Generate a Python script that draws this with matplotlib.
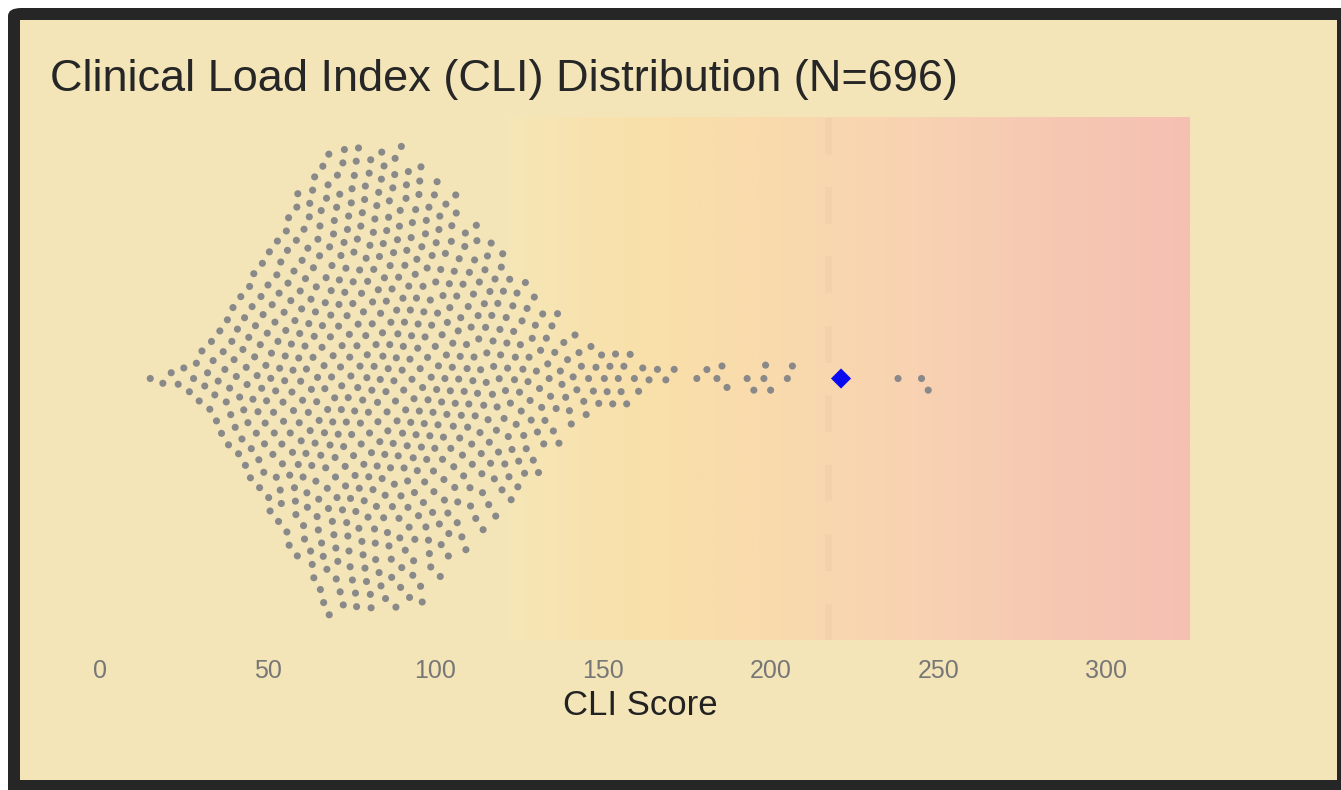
#!/usr/bin/env python
"""Beeswarm of Clinical Load Index (CLI) scores."""

from __future__ import annotations

import matplotlib

matplotlib.use("Agg")
import matplotlib.pyplot as plt
import numpy as np
from matplotlib.colors import LinearSegmentedColormap
from matplotlib.patches import FancyBboxPatch, Rectangle

# CLI scores: main body as counts per 5-point bin,
# sparse right tail as individual scores.
BIN_CENTERS = [15, 20, 25, 30, 35, 40, 45, 50, 55, 60, 65, 70, 75, 80, 85, 90,
               95, 100, 105, 110, 115, 120, 125, 130, 135, 140, 145, 150, 155,
               160, 165, 170]
BIN_COUNTS = [1, 2, 3, 6, 10, 15, 20, 24, 30, 35, 41, 43, 44, 44, 44, 43,
              41, 37, 34, 29, 27, 24, 20, 16, 12, 9, 7, 6, 6, 4, 2, 2]
TAIL_SCORES = [178, 181, 184, 185.5, 187, 193, 195, 198, 198.5, 200, 205,
               206.5, 238, 245, 247]
HIGHLIGHT_SCORE = 221
REFERENCE_LINE = 217
BAND_START, BAND_END = 122, 325
XTICKS = [0, 50, 100, 150, 200, 250, 300]
TITLE = "Clinical Load Index (CLI) Distribution (N=696)"
XLABEL = "CLI Score"

FIG_W, FIG_H, DPI = 1341, 790, 100
AX_LEFT_PX, AX_RIGHT_PX = 50, 1230
AX_TOP_PX, AX_BOTTOM_PX = 117, 640
XLIM = (-14.9, 337.0)
BG = "#F3E5B8"
DOT = "#898989"
SPACING_PX = 13.45


def cli_scores() -> np.ndarray:
    values = []
    for center, count in zip(BIN_CENTERS, BIN_COUNTS):
        lo = center - 2.5
        values.extend(lo + (np.arange(count) + 0.5) * 5.0 / count)
    values.extend(TAIL_SCORES)
    return np.asarray(values, dtype=float)


def swarm_offsets(x_px: np.ndarray, d: float) -> np.ndarray:
    order = np.argsort(x_px, kind="stable")
    out = np.zeros(len(x_px))
    px, py = [], []
    flip = 1.0
    for idx in order:
        xi = x_px[idx]
        ax_ = np.asarray(px)
        ay_ = np.asarray(py)
        near = np.abs(ax_ - xi) < d if len(px) else np.zeros(0, bool)
        nx, ny = ax_[near], ay_[near]
        dy = np.sqrt(np.maximum(d ** 2 - (nx - xi) ** 2, 0.0))
        cands = np.concatenate([[0.0], ny + dy, ny - dy])
        cands = cands[np.lexsort((-flip * cands, np.abs(cands)))]
        chosen = 0.0
        for c in cands:
            if np.all((nx - xi) ** 2 + (ny - c) ** 2 >= d ** 2 - 1e-6):
                chosen = c
                break
        flip = -flip
        out[idx] = chosen
        px.append(xi)
        py.append(chosen)
    return out


def main() -> None:
    fig = plt.figure(figsize=(FIG_W / DPI, FIG_H / DPI), dpi=DPI, facecolor="white")
    # dark frame + beige panel
    fig.patches.append(FancyBboxPatch((8 / FIG_W, -0.05), 1.1, (FIG_H - 8) / FIG_H + 0.05,
                                      boxstyle="round,pad=0,rounding_size=0.01",
                                      transform=fig.transFigure, facecolor="#262626",
                                      edgecolor="none", zorder=-2))
    fig.patches.append(Rectangle((20 / FIG_W, 10 / FIG_H), (1337 - 20) / FIG_W,
                                 (FIG_H - 30) / FIG_H, transform=fig.transFigure,
                                 facecolor=BG, edgecolor="none", zorder=-1))

    ax = fig.add_axes([AX_LEFT_PX / FIG_W, 1 - AX_BOTTOM_PX / FIG_H,
                       (AX_RIGHT_PX - AX_LEFT_PX) / FIG_W,
                       (AX_BOTTOM_PX - AX_TOP_PX) / FIG_H])
    half_h = (AX_BOTTOM_PX - AX_TOP_PX) / 2
    ax.set_xlim(*XLIM)
    ax.set_ylim(-half_h, half_h)
    ax.set_facecolor("none")
    for spine in ax.spines.values():
        spine.set_visible(False)

    # risk gradient band
    cmap = LinearSegmentedColormap.from_list(
        "risk", ["#F6E6B6", "#F9E0AA", "#F9DAAD", "#F8D2B2", "#F6C8B3", "#F5C0B2"])
    ax.imshow(np.linspace(0, 1, 256)[None, :], cmap=cmap, aspect="auto",
              extent=(BAND_START, BAND_END, -half_h, half_h), zorder=0)
    ax.axvline(REFERENCE_LINE, color="#E9CCA8", lw=5, alpha=0.4,
               linestyle=(0, (5.3, 4.7)), zorder=1)

    scores = cli_scores()
    px_per_unit = (AX_RIGHT_PX - AX_LEFT_PX) / (XLIM[1] - XLIM[0])
    offsets = swarm_offsets(scores * px_per_unit, SPACING_PX)
    ax.scatter(scores, offsets, s=26, color=DOT, edgecolors="none", zorder=2)
    ax.scatter([HIGHLIGHT_SCORE], [0], marker="D", s=105, color="#0A0AF0",
               edgecolors="none", zorder=3)

    ax.set_yticks([])
    ax.set_xticks(XTICKS)
    ax.tick_params(axis="x", length=0, pad=14, labelsize=18, labelcolor="#777777")
    for lab in ax.get_xticklabels():
        lab.set_fontfamily("Liberation Sans")
    ax.set_xlabel(XLABEL, fontsize=25, family="Liberation Sans", color="#222222",
                  labelpad=4)
    fig.text(AX_LEFT_PX / FIG_W, 1 - 80 / FIG_H, TITLE, fontsize=32.5,
             family="Liberation Sans", color="#262626", va="center", ha="left")

    fig.savefig("out.png", dpi=DPI, facecolor=fig.get_facecolor())
    plt.close(fig)


if __name__ == "__main__":
    main()
